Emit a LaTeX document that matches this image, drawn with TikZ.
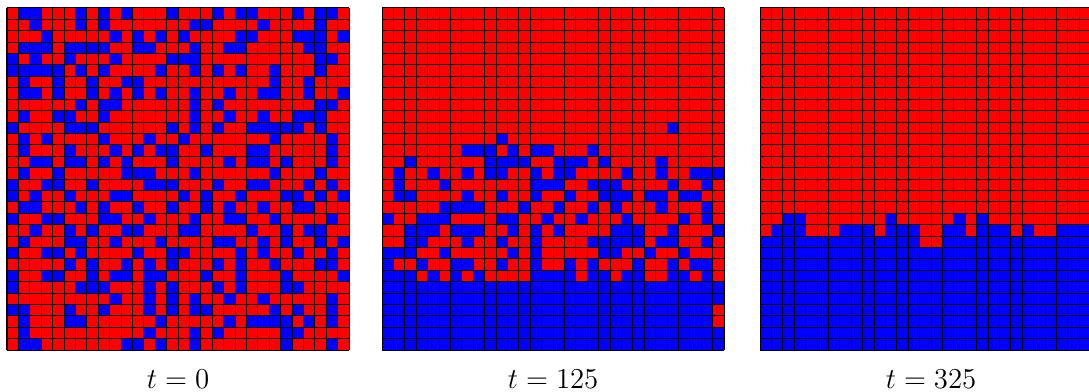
\documentclass[tikz,border=0pt]{standalone}
\usepackage{tikz}
\tikzset{
  gridline/.style={draw=black,line width=0.5pt},
  redcell/.style={fill=red},
  bluecell/.style={fill=blue},
  tlabel/.style={font=\fontsize{15.3}{18}\selectfont,anchor=base,inner sep=0pt},
}
\newcommand{\cellgrid}{\foreach \i in {0,...,30}
  {\draw[gridline] (\i,0) -- (\i,30); \draw[gridline] (0,\i) -- (30,\i);}}
\begin{document}
\begin{tikzpicture}[x=0.2cm,y=-0.2cm]
\clip (-0.614,-0.70) rectangle (94.9,33.68);
% t = 0
\begin{scope}[shift={(0,0)}]
\fill[redcell] (0,0) rectangle (30,30);
\foreach \r/\cs in {0/{1,2,6,8,10,14,18,20,21,25,27,28},
  1/{2,6,8,16,17,22,27},
  2/{3,9,11,13,15,20,21,25,26,27,29},
  3/{1,2,3,5,6,7,8,11,12,16,19,20,26,27},
  4/{0,2,5,9,14,15,16,27,28},
  5/{0,1,2,3,4,6,8,13,16,18,20,23,27},
  6/{1,4,7,10,11,23,26},
  7/{1,2,4,7,9,11,13,16,19,22,23,26,29},
  8/{6,8,9,16,18,27,28},
  9/{1,4,5,8,16,19,22,25,26,27},
  10/{0,5,6,7,14,16,18,21,22,23,24,25,27},
  11/{1,3,8,12,15,23,28},
  12/{1,5,9,11,13,14,17,21,22,28},
  13/{2,3,5,6,8,10,14,19,21,22,24,28},
  14/{1,4,10,11,12,16,23,27},
  15/{0,3,4,7,12,13,14,18,21,22,26,28},
  16/{0,2,5,9,10,15,17,20,24,25,27,29},
  17/{1,2,6,8,11,14,17,19,22,25,26},
  18/{0,3,4,8,9,12,16,19,20,23,28},
  19/{2,5,7,10,11,15,16,21,24,26,27},
  20/{1,5,6,9,13,18,19,22,24,27,29},
  21/{0,3,4,6,11,14,15,20,22,25,28},
  22/{5,7,10,12,14,18,20,23,27,28},
  23/{0,3,4,7,9,10,12,13,17,20,24,29},
  24/{0,6,7,8,12,14,18,20,24,25},
  25/{9,12,14,16,19,22,28},
  26/{0,1,5,8,12,14,16,17,23,25,28},
  27/{1,5,6,13,19,21,22,23,24,26,28},
  28/{1,12,16,18,24,25},
  29/{1,2,10,11,13,16,24,28}}
  {\foreach \c in \cs {\fill[bluecell] (\c,\r) rectangle ++(1,1);}}
\cellgrid
\node[tlabel] (lab0) at (15,33.35) {$t=0$};
\end{scope}
% t = 125
\begin{scope}[shift={(32.9,0)}]
\fill[redcell] (0,0) rectangle (30,30);
\fill[bluecell] (0,24) rectangle (30,30);
\foreach \r/\cs in {10/{25},11/{10},12/{7,8,9,11,13,14,18},
  13/{2,9,10,11,12,15,16,17,19,24},
  14/{1,4,7,9,10,13,15,16,21,24,27,28,29},
  15/{1,5,13,14,15,18,19,20,25,28},
  16/{1,2,7,10,13,16,19,20,21,23,24,26,27},
  17/{5,6,7,8,12,15,18,20,24,28},
  18/{0,3,4,5,10,11,14,17,21,26,28},
  19/{2,3,4,6,7,8,11,13,15,20,21,22,25,29},
  20/{2,3,7,10,13,18,19,20,21,22,24,25,28},
  21/{0,1,2,5,11,13,19,20,23,26},
  22/{0,3,6,7,10,13,16,18,22,25,27,28},
  23/{0,1,2,4,6,8,13,14,15,16,18,19,21,22,25,26,28}}
  {\foreach \c in \cs {\fill[bluecell] (\c,\r) rectangle ++(1,1);}}
\fill[redcell] (29,26) rectangle (30,28);
\cellgrid
\node[tlabel] (lab125) at (15,33.35) {$t=125$};
\end{scope}
% t = 325
\begin{scope}[shift={(66.05,0)}]
\fill[redcell] (0,0) rectangle (30,30);
\fill[bluecell] (0,19) rectangle (30,30);
\foreach \c in {2,3,11,17,19} {\fill[bluecell] (\c,18) rectangle ++(1,1);}
\foreach \c in {0,4,5,6,10,14,15,18,22,24,25} {\fill[redcell] (\c,19) rectangle ++(1,1);}
\fill[redcell] (14,20) rectangle (16,21);
\cellgrid
\node[tlabel] (lab325) at (15,33.35) {$t=325$};
\end{scope}
\end{tikzpicture}
\end{document}
